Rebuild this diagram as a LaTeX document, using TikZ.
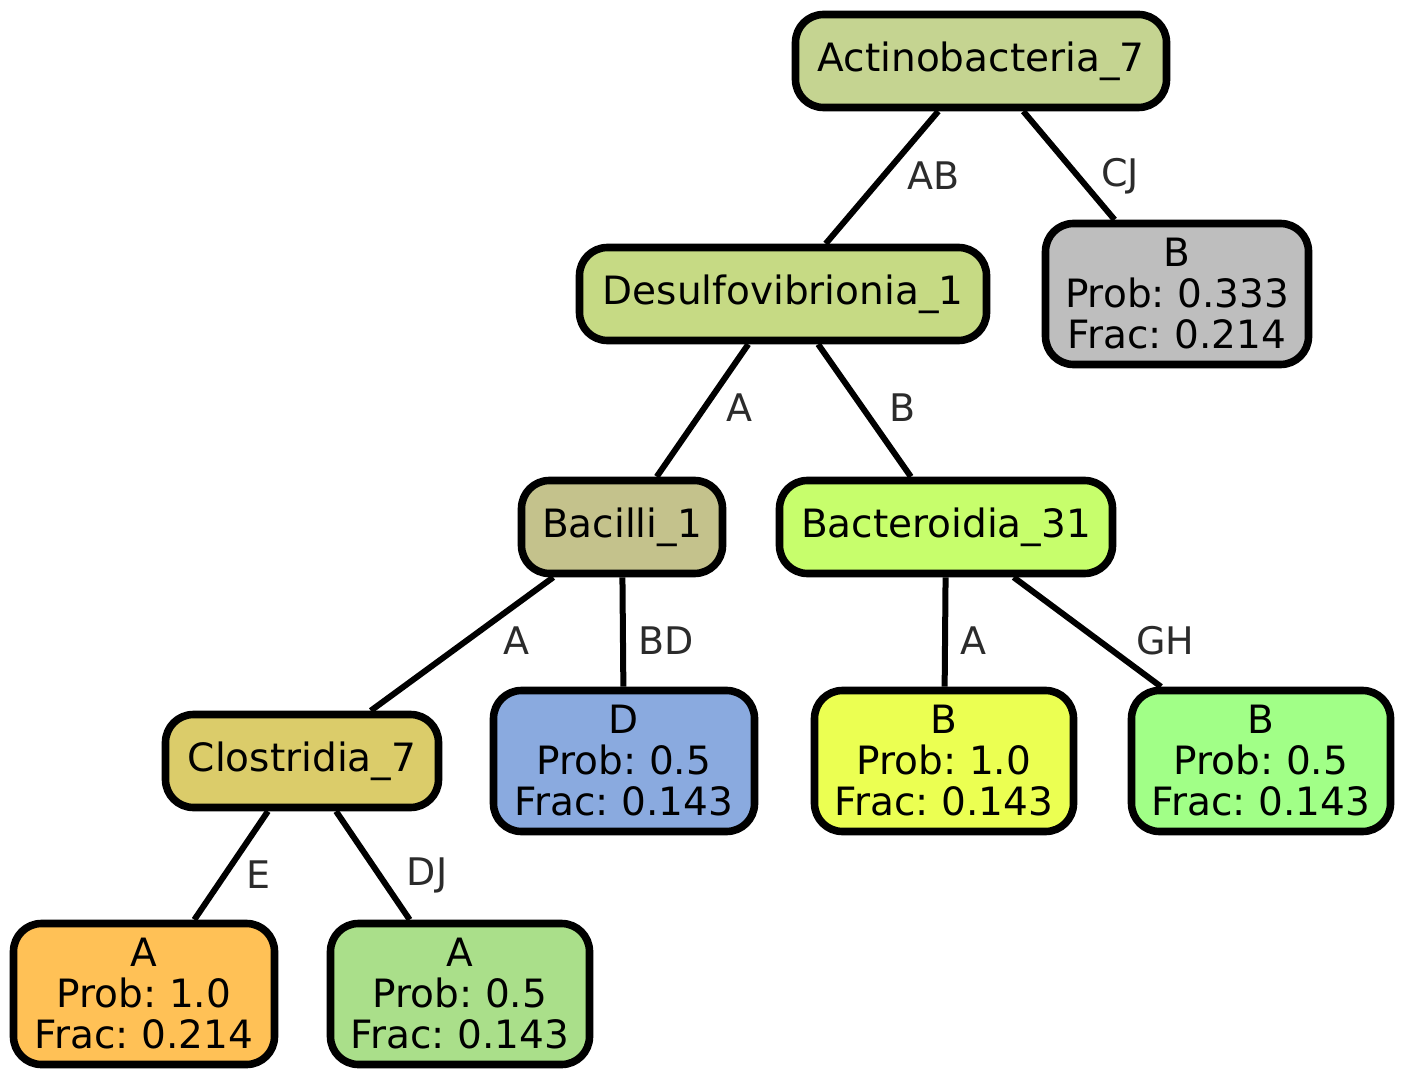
\documentclass[tikz,border=0pt]{standalone}
\usepackage{fontspec}
\setmainfont{DejaVu Sans}
\definecolor{cAct}{HTML}{C5D491}
\definecolor{cDes}{HTML}{C6DA84}
\definecolor{cGray}{HTML}{BEBEBE}
\definecolor{cBac}{HTML}{C4C28C}
\definecolor{cBct}{HTML}{C7FE6C}
\definecolor{cClo}{HTML}{DBCC6A}
\definecolor{cD}{HTML}{8AAADF}
\definecolor{cYel}{HTML}{EBFF52}
\definecolor{cGrn}{HTML}{A1FF87}
\definecolor{cOra}{HTML}{FFC156}
\definecolor{cAgr}{HTML}{AADF8A}
\definecolor{cLbl}{HTML}{2B2B2B}
\frenchspacing
\begin{document}
\begin{tikzpicture}[x=0.5pt,y=-0.5pt,
  box/.style={draw=black, line width=3.8pt, rounded corners=14pt, align=center,
    font=\fontsize{19.5}{20.5}\selectfont, inner sep=0pt, text=black},
  one/.style={box, minimum height=46.5pt},
  three/.style={box, minimum height=70.5pt},
  lbl/.style={font=\fontsize{19}{20}\selectfont, text=cLbl, inner sep=0pt},
  conn/.style={line width=3pt}]
\useasboundingbox (0,0) rectangle (1406,1079);

\node[one, fill=cAct, minimum width=185.5pt] (act) at (981,61) {Actinobacteria\_7};
\node[one, fill=cDes, minimum width=203.5pt] (des) at (783,294) {Desulfovibrionia\_1};
\node[three, fill=cGray, minimum width=131.5pt] (bg) at (1177,294) {B\\Prob: 0.333\\Frac: 0.214};
\node[one, fill=cBac, minimum width=100.5pt] (bac) at (622,527) {Bacilli\_1};
\node[one, fill=cBct, minimum width=166.5pt] (bct) at (946,527) {Bacteroidia\_31};
\node[one, fill=cClo, minimum width=136.5pt] (clo) at (302,761) {Clostridia\_7};
\node[three, fill=cD, minimum width=130.5pt] (dd) at (624,761) {D\\Prob: 0.5\\Frac: 0.143};
\node[three, fill=cYel, minimum width=129.5pt] (by) at (944,761) {B\\Prob: 1.0\\Frac: 0.143};
\node[three, fill=cGrn, minimum width=129.5pt] (bgr) at (1261,761) {B\\Prob: 0.5\\Frac: 0.143};
\node[three, fill=cOra, minimum width=130.5pt] (ao) at (144,994) {A\\Prob: 1.0\\Frac: 0.214};
\node[three, fill=cAgr, minimum width=129.5pt] (ag) at (460,994) {A\\Prob: 0.5\\Frac: 0.143};

\draw[conn] (act) -- (des);
\draw[conn] (act) -- (bg);
\draw[conn] (des) -- (bac);
\draw[conn] (des) -- (bct);
\draw[conn] (bac) -- (clo);
\draw[conn] (bac) -- (dd);
\draw[conn] (bct) -- (by);
\draw[conn] (bct) -- (bgr);
\draw[conn] (clo) -- (ao);
\draw[conn] (clo) -- (ag);

\node[lbl] (l1) at (934,176) {AB};
\node[lbl] (l2) at (1120,176) {CJ};
\node[lbl] (l3) at (739,408) {A};
\node[lbl] (l4) at (903,408) {B};
\node[lbl] (l5) at (516,641) {A};
\node[lbl] (l6) at (666,641) {BD};
\node[lbl] (l7) at (973,641) {A};
\node[lbl] (l8) at (1165,641) {GH};
\node[lbl] (l9) at (258,875) {E};
\node[lbl] (l10) at (427,875) {DJ};
\end{tikzpicture}
\end{document}
